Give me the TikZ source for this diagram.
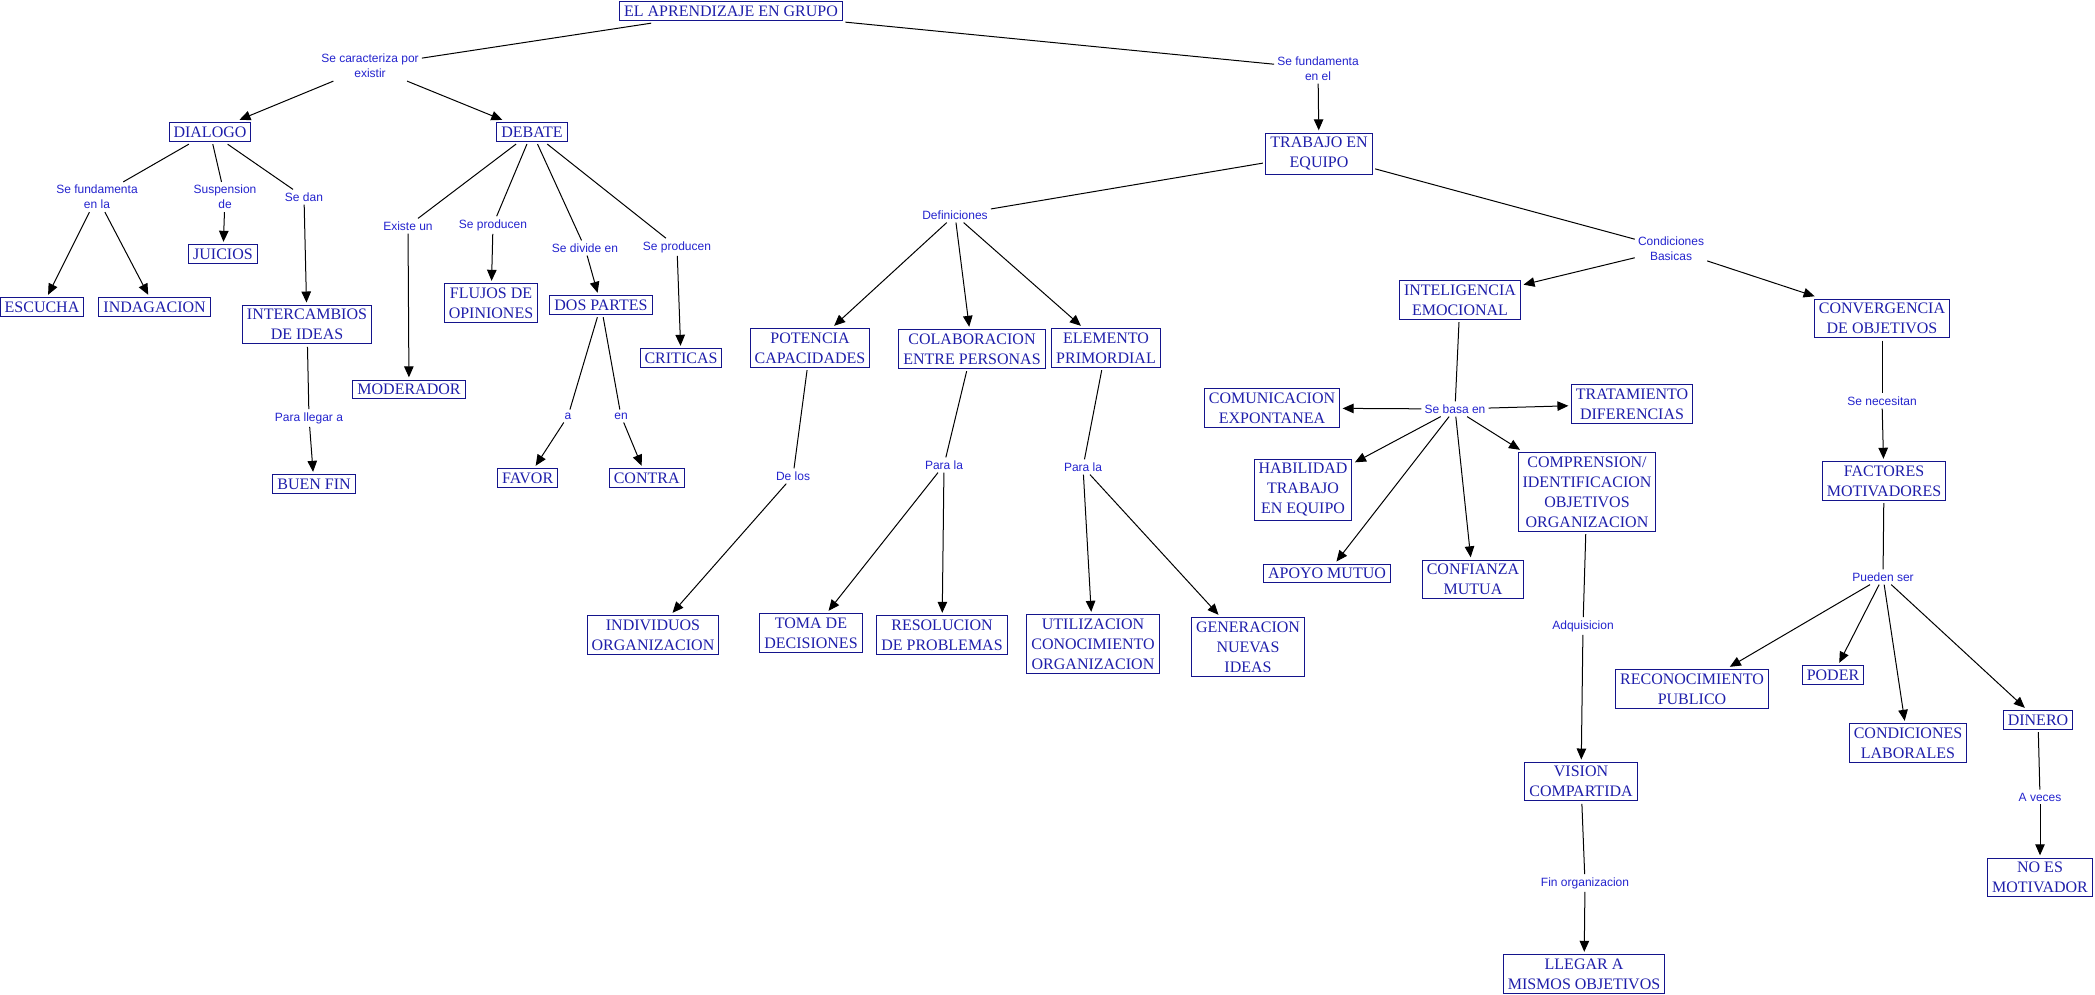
\documentclass[tikz,border=0pt]{standalone}
\usepackage{fontspec}
\setmainfont{Liberation Serif}
\newfontfamily\lblfont{Liberation Sans}
\usetikzlibrary{arrows.meta}
\definecolor{ctext}{RGB}{30,30,170}
\definecolor{cbord}{RGB}{20,20,140}
\definecolor{ltext}{RGB}{35,35,205}
\tikzset{
  concept/.style={draw=cbord, line width=1pt, text=ctext, font=\fontsize{16}{20}\selectfont,
    align=center, inner xsep=4.5pt, inner ysep=3.8pt, outer sep=3pt},
  lbl/.style={text=ltext, font=\lblfont\fontsize{12}{15}\selectfont, align=center, inner sep=3pt},
  conn/.style={draw=black, line width=1pt},
  arr/.style={conn, -{Triangle[length=11pt,width=9.5pt]}}
}
\begin{document}
\begin{tikzpicture}[x=1pt,y=-1pt]
\useasboundingbox (0,0) rectangle (2095,995);
% concepts
\node[concept] (el) at (731,11) {EL APRENDIZAJE EN GRUPO};
\node[concept] (dialogo) at (210,132) {DIALOGO};
\node[concept] (debate) at (532,132) {DEBATE};
\node[concept] (juicios) at (223,254) {JUICIOS};
\node[concept] (escucha) at (42,307) {ESCUCHA};
\node[concept] (indag) at (154.6,307) {INDAGACION};
\node[concept] (interc) at (307,324.7) {INTERCAMBIOS\\DE IDEAS};
\node[concept] (flujos) at (491,303) {FLUJOS DE\\OPINIONES};
\node[concept] (dos) at (601,305) {DOS PARTES};
\node[concept] (criticas) at (681,358) {CRITICAS};
\node[concept] (moder) at (409,389.5) {MODERADOR};
\node[concept] (buen) at (314,484) {BUEN FIN};
\node[concept] (favor) at (527.7,478) {FAVOR};
\node[concept] (contra) at (646.7,478) {CONTRA};
\node[concept] (trabajo) at (1319,153.7) {TRABAJO EN\\EQUIPO};
\node[concept] (potencia) at (810,348) {POTENCIA\\CAPACIDADES};
\node[concept] (colab) at (972,349) {COLABORACION\\ENTRE PERSONAS};
\node[concept] (elem) at (1106,348) {ELEMENTO\\PRIMORDIAL};
\node[concept] (indiv) at (653,635) {INDIVIDUOS\\ORGANIZACION};
\node[concept] (toma) at (811,633) {TOMA DE\\DECISIONES};
\node[concept] (resol) at (942,635) {RESOLUCION\\DE PROBLEMAS};
\node[concept] (util) at (1093,644) {UTILIZACION\\CONOCIMIENTO\\ORGANIZACION};
\node[concept] (gener) at (1248,647) {GENERACION\\NUEVAS\\IDEAS};
\node[concept] (intel) at (1460,300) {INTELIGENCIA\\EMOCIONAL};
\node[concept] (conver) at (1882,318.5) {CONVERGENCIA\\DE OBJETIVOS};
\node[concept] (comun) at (1272,408) {COMUNICACION\\EXPONTANEA};
\node[concept] (trat) at (1632,404) {TRATAMIENTO\\DIFERENCIAS};
\node[concept] (habil) at (1303,490) {HABILIDAD\\TRABAJO\\EN EQUIPO};
\node[concept] (compr) at (1587,492) {COMPRENSION/\\IDENTIFICACION\\OBJETIVOS\\ORGANIZACION};
\node[concept] (apoyo) at (1327,573.7) {APOYO MUTUO};
\node[concept] (confi) at (1473,579.5) {CONFIANZA\\MUTUA};
\node[concept] (vision) at (1581,781.7) {VISION\\COMPARTIDA};
\node[concept] (llegar) at (1584,974) {LLEGAR A\\MISMOS OBJETIVOS};
\node[concept] (factores) at (1884,481) {FACTORES\\MOTIVADORES};
\node[concept] (recon) at (1692,689) {RECONOCIMIENTO\\PUBLICO};
\node[concept] (poder) at (1833,675) {PODER};
\node[concept] (condic) at (1908,743) {CONDICIONES\\LABORALES};
\node[concept] (dinero) at (2038,720) {DINERO};
\node[concept] (noes) at (2040,877.5) {NO ES\\MOTIVADOR};
% linking phrases
\node[lbl] (caract) at (370,66) {Se caracteriza por\\existir};
\node[lbl] (fundel) at (1318,68.5) {Se fundamenta\\en el};
\node[lbl] (fundla) at (97,197) {Se fundamenta\\en la};
\node[lbl] (susp) at (225,197) {Suspension\\de};
\node[lbl] (sedan) at (304,197) {Se dan};
\node[lbl] (parallegar) at (309,418) {Para llegar a};
\node[lbl] (existe) at (408,226) {Existe un};
\node[lbl] (seprod1) at (493,225) {Se producen};
\node[lbl] (divide) at (585,248) {Se divide en};
\node[lbl] (seprod2) at (677,247) {Se producen};
\node[lbl] (la) at (568,416) {a};
\node[lbl] (len) at (621,416) {en};
\node[lbl] (defin) at (955,215) {Definiciones};
\node[lbl] (delos) at (793,476) {De los};
\node[lbl] (parala1) at (944,465) {Para la};
\node[lbl] (parala2) at (1083,467) {Para la};
\node[lbl] (condb) at (1671,249) {Condiciones\\Basicas};
\node[lbl] (sebasa) at (1455,409) {Se basa en};
\node[lbl] (adquis) at (1583,626) {Adquisicion};
\node[lbl] (finorg) at (1585,883) {Fin organizacion};
\node[lbl] (senec) at (1882,401) {Se necesitan};
\node[lbl] (pueden) at (1883,577) {Pueden ser};
\node[lbl] (aveces) at (2040,797) {A veces};
% connectors
\draw[conn] (el) -- (caract);
\draw[arr] (caract) -- (dialogo);
\draw[arr] (caract) -- (debate);
\draw[conn] (el) -- (fundel);
\draw[arr] (fundel) -- (trabajo);
\draw[conn] (dialogo) -- (fundla);
\draw[arr] (fundla) -- (escucha);
\draw[arr] (fundla) -- (indag);
\draw[conn] (dialogo) -- (susp);
\draw[arr] (susp) -- (juicios);
\draw[conn] (dialogo) -- (sedan);
\draw[arr] (sedan) -- (interc);
\draw[conn] (interc) -- (parallegar);
\draw[arr] (parallegar) -- (buen);
\draw[conn] (debate) -- (existe);
\draw[arr] (existe) -- (moder);
\draw[conn] (debate) -- (seprod1);
\draw[arr] (seprod1) -- (flujos);
\draw[conn] (debate) -- (divide);
\draw[arr] (divide) -- (dos);
\draw[conn] (debate) -- (seprod2);
\draw[arr] (seprod2) -- (criticas);
\draw[conn] (dos) -- (la);
\draw[arr] (la) -- (favor);
\draw[conn] (dos) -- (len);
\draw[arr] (len) -- (contra);
\draw[conn] (trabajo) -- (defin);
\draw[arr] (defin) -- (potencia);
\draw[arr] (defin) -- (colab);
\draw[arr] (defin) -- (elem);
\draw[conn] (potencia) -- (delos);
\draw[arr] (delos) -- (indiv);
\draw[conn] (colab) -- (parala1);
\draw[arr] (parala1) -- (toma);
\draw[arr] (parala1) -- (resol);
\draw[conn] (elem) -- (parala2);
\draw[arr] (parala2) -- (util);
\draw[arr] (parala2) -- (gener);
\draw[conn] (trabajo) -- (condb);
\draw[arr] (condb) -- (intel);
\draw[arr] (condb) -- (conver);
\draw[conn] (intel) -- (sebasa);
\draw[arr] (sebasa) -- (comun);
\draw[arr] (sebasa) -- (trat);
\draw[arr] (sebasa) -- (habil);
\draw[arr] (sebasa) -- (compr);
\draw[arr] (sebasa) -- (apoyo);
\draw[arr] (sebasa) -- (confi);
\draw[conn] (compr) -- (adquis);
\draw[arr] (adquis) -- (vision);
\draw[conn] (vision) -- (finorg);
\draw[arr] (finorg) -- (llegar);
\draw[conn] (conver) -- (senec);
\draw[arr] (senec) -- (factores);
\draw[conn] (factores) -- (pueden);
\draw[arr] (pueden) -- (recon);
\draw[arr] (pueden) -- (poder);
\draw[arr] (pueden) -- (condic);
\draw[arr] (pueden) -- (dinero);
\draw[conn] (dinero) -- (aveces);
\draw[arr] (aveces) -- (noes);
\end{tikzpicture}
\end{document}
